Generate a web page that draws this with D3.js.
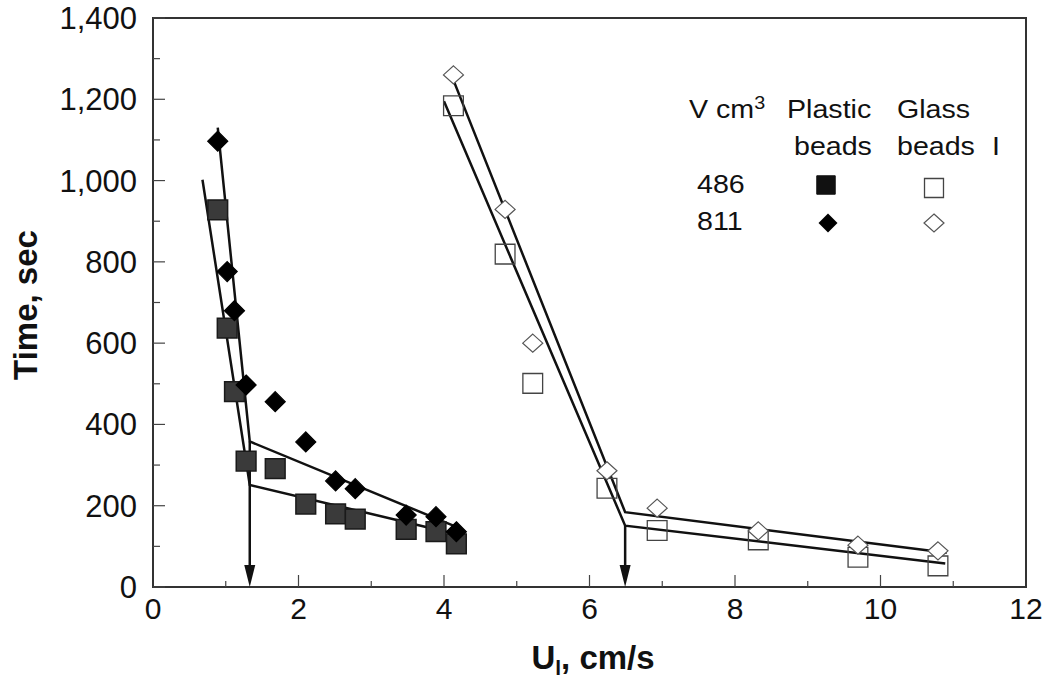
<!DOCTYPE html>
<html>
<head>
<meta charset="utf-8">
<script src="https://cdn.jsdelivr.net/npm/d3@7"></script>
<style>
  body { margin: 0; background: #fff; }
  svg { display: block; font-family: "Liberation Sans", Arial, sans-serif; }
</style>
</head>
<body>
<div id="chart"></div>
<script>
// ---- data ----
const plasticX = [0.89, 1.02, 1.12, 1.28, 1.68, 2.10, 2.51, 2.78, 3.48, 3.89, 4.17];
const plastic486 = [928, 637, 481, 310, 291, 204, 180, 167, 142, 136, 106];
const plastic811 = [1097, 776, 680, 497, 456, 357, 261, 242, 177, 173, 136];

const glassX = [4.13, 4.84, 5.22, 6.24, 6.93, 8.32, 9.69, 10.79];
const glass486 = [1184, 819, 501, 243, 139, 116, 73, 52];
const glass811 = [1260, 929, 600, 286, 194, 138, 103, 89];

// fitted two-segment lines [x, time]
const plasticFit486 = [[0.68, 1002], [1.33, 251], [4.17, 130]];
const plasticFit811 = [[0.89, 1130], [1.33, 358], [4.17, 148]];
const glassFit486 = [[4.00, 1195], [6.49, 151], [10.89, 58]];
const glassFit811 = [[4.09, 1265], [6.49, 184], [10.91, 84]];

// break-point arrows [x, time]
const arrows = [[1.33, 358], [6.49, 151]];

const yTicks = [0, 200, 400, 600, 800, 1000, 1200, 1400];
const xTicks = [0, 2, 4, 6, 8, 10, 12];
const legendRows = ["486", "811"];

// ---- layout ----
const width = 1052, height = 680;
const margin = {left: 153, top: 18, right: 26, bottom: 93};
const stretch = 1.1;

const svg = d3.select('#chart').append('svg')
    .attr('width', width)
    .attr('height', height);

const x = d3.scaleLinear().domain([0, 12]).range([margin.left, width - margin.right]);
const y = d3.scaleLinear().domain([0, 1400]).range([height - margin.bottom, margin.top]);

// frame
svg.append('rect')
    .attr('x', x(0)).attr('y', y(1400))
    .attr('width', x(12) - x(0)).attr('height', y(0) - y(1400))
    .attr('fill', 'none').attr('stroke', '#333').attr('stroke-width', 2);

// y ticks (inside)
const yAll = d3.range(0, 1401, 100);
svg.append('g').selectAll('line').data(yAll).enter().append('line')
    .attr('x1', x(0)).attr('x2', d => x(0) + (d % 200 === 0 ? 12 : 7))
    .attr('y1', d => y(d)).attr('y2', d => y(d))
    .attr('stroke', '#444').attr('stroke-width', 1.2);

// x ticks (inside)
const xAll = d3.range(1, 12);
svg.append('g').selectAll('line').data(xAll).enter().append('line')
    .attr('x1', d => x(d)).attr('x2', d => x(d))
    .attr('y1', y(0)).attr('y2', d => y(0) - (d % 2 === 0 ? 12 : 6))
    .attr('stroke', '#444').attr('stroke-width', 1.2);

// tick labels
svg.append('g').selectAll('text').data(yTicks).enter().append('text')
    .attr('x', 137)
    .attr('y', d => y(d) + 11)
    .attr('text-anchor', 'end')
    .attr('font-size', 31)
    .attr('fill', '#111')
    .text(d => d3.format(',')(d));

svg.append('g').selectAll('text').data(xTicks).enter().append('text')
    .attr('x', d => x(d))
    .attr('y', 619)
    .attr('text-anchor', 'middle')
    .attr('font-size', 30)
    .attr('fill', '#111')
    .text(d => d);

// axis titles
const xt = svg.append('text')
    .attr('x', 593).attr('y', 669)
    .attr('text-anchor', 'middle')
    .attr('font-size', 33).attr('font-weight', 'bold').attr('fill', '#111');
xt.append('tspan').text('U');
xt.append('tspan').attr('font-size', 21).attr('dy', 6).text('l');
xt.append('tspan').attr('dy', -6).text(', cm/s');

svg.append('text')
    .attr('transform', `translate(37,305) rotate(-90)`)
    .attr('text-anchor', 'middle')
    .attr('font-size', 33).attr('font-weight', 'bold').attr('fill', '#111')
    .text('Time, sec');

// fit lines
const line = d3.line().x(d => x(d[0])).y(d => y(d[1]));
[plasticFit486, plasticFit811, glassFit486, glassFit811].forEach(f => {
    svg.append('path')
        .attr('d', line(f))
        .attr('fill', 'none').attr('stroke', '#111').attr('stroke-width', 2.5)
        .attr('stroke-linejoin', 'miter');
});

// arrows
arrows.forEach(a => {
    const ax = x(a[0]);
    svg.append('line')
        .attr('x1', ax).attr('x2', ax)
        .attr('y1', y(a[1])).attr('y2', y(0) - 18)
        .attr('stroke', '#111').attr('stroke-width', 2.5);
    svg.append('path')
        .attr('d', `M${ax - 5.5},${y(0) - 22}L${ax + 5.5},${y(0) - 22}L${ax},${y(0)}Z`)
        .attr('fill', '#111');
});

// markers
const sq = d3.symbol().type(d3.symbolSquare).size(390);
const dia = (w, h) => `M0,${-h / 2}L${w / 2},0L0,${h / 2}L${-w / 2},0Z`;

function drawSquares(xs, ys, filled) {
    svg.append('g').selectAll('path').data(xs).enter().append('path')
        .attr('transform', (d, i) => `translate(${x(d)},${y(ys[i])})`)
        .attr('d', sq)
        .attr('fill', filled ? '#3a3a3a' : 'none')
        .attr('stroke', filled ? '#1a1a1a' : '#444')
        .attr('stroke-width', filled ? 1.5 : 1.3);
}
function drawDiamonds(xs, ys, filled) {
    svg.append('g').selectAll('path').data(xs).enter().append('path')
        .attr('transform', (d, i) => `translate(${x(d)},${y(ys[i])})`)
        .attr('d', filled ? dia(20, 20) : dia(20, 18))
        .attr('fill', filled ? '#000' : '#fff')
        .attr('stroke', filled ? '#000' : '#555')
        .attr('stroke-width', 1.2);
}

drawSquares(plasticX, plastic486, true);
drawDiamonds(plasticX, plastic811, true);
drawSquares(glassX, glass486, false);
drawDiamonds(glassX, glass811, false);

// legend
const lg = svg.append('g').attr('font-size', 26).attr('fill', '#111');
function ltext(tx, ty, s) {
    return lg.append('text').attr('transform', `translate(${tx},${ty}) scale(${stretch},1)`).text(s);
}
const vt = ltext(689, 118, 'V cm');
vt.append('tspan').attr('font-size', 18).attr('dy', -9).text('3');
ltext(787, 118, 'Plastic');
ltext(897, 118, 'Glass');
ltext(794, 155, 'beads');
ltext(897, 155, 'beads');
ltext(992, 155, 'I');
legendRows.forEach((r, i) => ltext(697, 193 + i * 37, r));

lg.append('path').attr('transform', 'translate(826,185)').attr('d', d3.symbol().type(d3.symbolSquare).size(340))
    .attr('fill', '#111').attr('stroke', '#111');
lg.append('path').attr('transform', 'translate(934,188)').attr('d', d3.symbol().type(d3.symbolSquare).size(360))
    .attr('fill', 'none').attr('stroke', '#444').attr('stroke-width', 1.3);
lg.append('path').attr('transform', 'translate(828,223)').attr('d', dia(19, 19))
    .attr('fill', '#000');
lg.append('path').attr('transform', 'translate(934,223)').attr('d', dia(20, 18))
    .attr('fill', '#fff').attr('stroke', '#555').attr('stroke-width', 1.2);
</script>
</body>
</html>
